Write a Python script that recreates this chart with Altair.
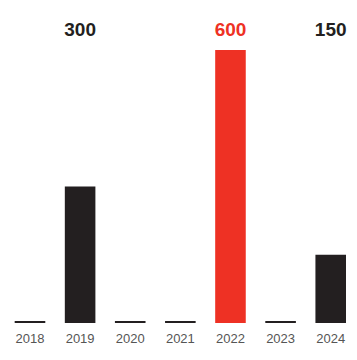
import altair as alt
import pandas as pd

years = ["2018", "2019", "2020", "2021", "2022", "2023", "2024"]
values = [0, 300, 0, 0, 600, 0, 150]
highlight_year = "2022"

df = pd.DataFrame({"year": years, "value": values})
df["label"] = [str(v) if v > 0 else "" for v in values]

DARK = "#231f20"
RED = "#ee3124"
FONT = "Liberation Sans"

x = alt.X(
    "year:N",
    sort=years,
    scale=alt.Scale(range=[6.7, 338], paddingInner=0.39, paddingOuter=0),
    axis=alt.Axis(
        title=None, ticks=False, domain=False, labelAngle=0,
        labelFont=FONT, labelFontSize=13, labelColor="#555555",
        labelPadding=9,
    ),
)
y_scale = alt.Scale(domain=[0, 600], range=[315, 42])
color = alt.condition(alt.datum.year == highlight_year, alt.value(RED), alt.value(DARK))

base = alt.Chart(df)

bars = base.transform_filter(alt.datum.value > 0).mark_bar().encode(
    x=x,
    y=alt.Y("value:Q", scale=y_scale, axis=None),
    color=color,
)

zeros = base.transform_filter(alt.datum.value == 0).mark_tick(
    size=30.6, thickness=2, yOffset=-1, opacity=1
).encode(
    x=x,
    y=alt.Y("value:Q", scale=y_scale, axis=None),
    color=color,
)

labels = base.transform_filter(alt.datum.value > 0).mark_text(
    font=FONT, fontSize=19, fontWeight="bold", baseline="middle", align="center"
).encode(
    x=x,
    y=alt.value(22),
    text="label:N",
    color=color,
)

chart = alt.layer(bars, zeros, labels).properties(
    width=341,
    height=315,
    autosize=alt.AutoSizeParams(type="none"),
    padding={"left": 0, "top": 0, "right": 0, "bottom": 25},
).configure_view(stroke=None)

chart.save("out.html", embed_options={"renderer": "svg", "actions": False})
